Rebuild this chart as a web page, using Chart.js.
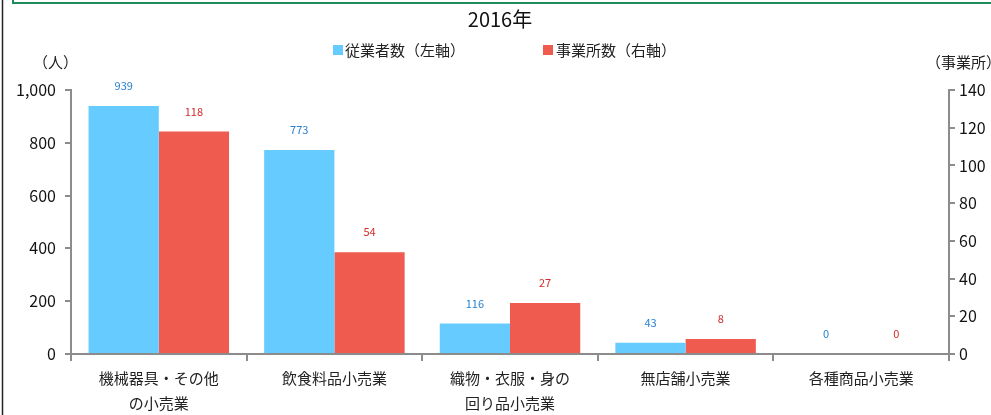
<!DOCTYPE html>
<html>
<head>
<meta charset="utf-8">
<script src="https://cdn.jsdelivr.net/npm/chart.js@4"></script>
<style>
  html, body { margin: 0; padding: 0; background: #fff; }
  #wrap { width: 991px; height: 415px; position: relative; }
</style>
</head>
<body>
<div id="wrap"><canvas id="myBarChart" width="991" height="415"></canvas></div>
<script>
const categories = [
  ['機械器具・その他', 'の小売業'],
  '飲食料品小売業',
  ['織物・衣服・身の', '回り品小売業'],
  '無店舗小売業',
  '各種商品小売業'
];
const employees = [939, 773, 116, 43, 0];
const offices = [118, 54, 27, 8, 0];
const leftTicks = [0, 200, 400, 600, 800, 1000];
const rightTicks = [0, 20, 40, 60, 80, 100, 120, 140];

document.addEventListener('DOMContentLoaded', function () {
    const ctx = document.getElementById('myBarChart').getContext('2d');
    const font = '"Noto Sans CJK JP", "Noto Sans", sans-serif';

    const decor = {
        id: 'decor',
        afterDraw(chart) {
          const c = chart.ctx;
          c.save();
          // frame lines
          c.strokeStyle = '#222';
          c.lineWidth = 1.5;
          c.beginPath(); c.moveTo(2.5, 0); c.lineTo(2.5, 415); c.stroke();
          c.strokeStyle = '#1f8a5b';
          c.lineWidth = 2;
          c.beginPath(); c.moveTo(13, 0); c.lineTo(13, 3); c.lineTo(991, 3); c.stroke();

          // title
          c.fillStyle = '#111';
          c.textAlign = 'center';
          c.textBaseline = 'middle';
          c.font = '20px ' + font;
          c.fillText('2016年', 500, 19);

          // legend
          c.font = '15px ' + font;
          c.textAlign = 'left';
          c.fillStyle = '#66ccff';
          c.fillRect(333, 45, 10, 10);
          c.fillStyle = '#222';
          c.fillText('従業者数（左軸）', 345, 50);
          c.fillStyle = '#ef5b4f';
          c.fillRect(543, 45, 10, 10);
          c.fillStyle = '#222';
          c.fillText('事業所数（右軸）', 556, 50);

          // axis titles
          c.font = '15px ' + font;
          c.textAlign = 'left';
          c.fillText('（人）', 33, 62);
          c.fillText('（事業所）', 926, 62);

          // value labels
          c.font = '11px ' + font;
          c.textAlign = 'center';
          const colors = ['#2581d0', '#d42b2b'];
          chart.data.datasets.forEach(function (ds, di) {
            const meta = chart.getDatasetMeta(di);
            c.fillStyle = colors[di];
            meta.data.forEach(function (bar, i) {
              c.fillText(String(ds.data[i]), bar.x, bar.y - 20);
            });
          });
          c.restore();
        }
    };

    new Chart(ctx, {
        type: 'bar',
        data: {
            labels: categories,
            datasets: [
              { label: '従業者数（左軸）', data: employees, backgroundColor: '#66ccff', yAxisID: 'y',
                categoryPercentage: 0.8, barPercentage: 1.0 },
              { label: '事業所数（右軸）', data: offices, backgroundColor: '#ef5b4f', yAxisID: 'y1',
                categoryPercentage: 0.8, barPercentage: 1.0 }
            ]
        },
        options: {
            responsive: false,
            animation: false,
            layout: { padding: { top: 90, bottom: 0, left: 0, right: 0 } },
            plugins: { legend: { display: false }, title: { display: false }, tooltip: { enabled: false } },
            scales: {
                x: {
                  grid: { drawOnChartArea: false, drawTicks: true, tickLength: 7, color: '#8c8c8c', lineWidth: 2, offset: true },
                  border: { color: '#8c8c8c', width: 2 },
                  ticks: { color: '#222', font: { family: font, size: 15, lineHeight: 1.65 }, padding: 5, maxRotation: 0, autoSkip: false },
                  afterFit(scale) { scale.height = 61; }
                },
                y: {
                  position: 'left', min: 0, max: 1000,
                  afterBuildTicks(scale) { scale.ticks = leftTicks.map(v => ({ value: v })); },
                  grid: { drawOnChartArea: false, drawTicks: true, tickLength: 6, color: '#8c8c8c', lineWidth: 2 },
                  border: { color: '#8c8c8c', width: 2 },
                  ticks: { color: '#111', font: { family: font, size: 16 }, padding: 9,
                           callback: v => v.toLocaleString('en-US') },
                  afterFit(scale) { scale.width = 71; }
                },
                y1: {
                  position: 'right', min: 0, max: 140,
                  afterBuildTicks(scale) { scale.ticks = rightTicks.map(v => ({ value: v })); },
                  grid: { drawOnChartArea: false, drawTicks: true, tickLength: 6, color: '#8c8c8c', lineWidth: 2 },
                  border: { color: '#8c8c8c', width: 2 },
                  ticks: { color: '#111', font: { family: font, size: 16 }, padding: 4 },
                  afterFit(scale) { scale.width = 42; }
                }
            }
        },
        plugins: [decor]
    });
});
</script>
</body>
</html>
